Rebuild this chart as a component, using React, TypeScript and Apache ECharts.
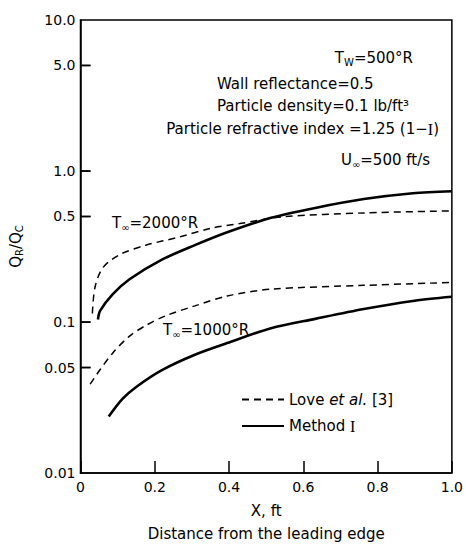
import React, { useEffect, useRef } from "react";
import * as echarts from "echarts";

const FONT = "DejaVu Sans";

const xTickLabels = ["0", "0.2", "0.4", "0.6", "0.8", "1.0"];
const yTickValues = [0.01, 0.05, 0.1, 0.5, 1, 5, 10];
const yTickLabels = ["0.01", "0.05", "0.1", "0.5", "1.0", "5.0", "10.0"];

const love2000X = [0.032, 0.039, 0.06, 0.105, 0.176, 0.263, 0.35, 0.429, 0.545, 0.763, 1.0];
const love2000Y = [0.114, 0.17, 0.229, 0.279, 0.323, 0.364, 0.417, 0.449, 0.498, 0.528, 0.545];

const method2000X = [0.047, 0.053, 0.087, 0.132, 0.218, 0.308, 0.395, 0.513, 0.632, 0.763, 0.895, 1.0];
const method2000Y = [0.104, 0.119, 0.153, 0.192, 0.258, 0.323, 0.393, 0.49, 0.57, 0.652, 0.713, 0.734];

const love1000X = [0.026, 0.053, 0.087, 0.132, 0.176, 0.229, 0.308, 0.395, 0.513, 0.763, 1.0];
const love1000Y = [0.0388, 0.0485, 0.0625, 0.0807, 0.095, 0.11, 0.128, 0.149, 0.165, 0.175, 0.183];

const method1000X = [0.076, 0.113, 0.15, 0.218, 0.308, 0.395, 0.513, 0.632, 0.763, 0.895, 1.0];
const method1000Y = [0.0237, 0.031, 0.0372, 0.0479, 0.0608, 0.0726, 0.091, 0.105, 0.122, 0.138, 0.147];

const LOVE = "Love et al. [3]";
const METHOD = "Method I";

const toPairs = (xs: number[], ys: number[]) => xs.map((x, i) => [x, Math.log10(ys[i])]);

export default function App() {
  const ref = useRef<HTMLDivElement>(null);
  useEffect(() => {
    if (!ref.current) return;
    const chart = echarts.init(ref.current, undefined, { renderer: "svg" });
    const logTicks = yTickValues.map((v) => Math.log10(v));
    const sub = { fontFamily: FONT, fontSize: 10, color: "#000", padding: [8, 0, 0, 0] };
    const norm = { fontFamily: FONT, fontSize: 15, color: "#000" };
    const roman = { fontFamily: "Liberation Serif", fontSize: 16, color: "#000" };
    const dashed = { color: "#000", width: 1.5, type: [7, 5] as any };
    const solid = { color: "#000", width: 2.6 };
    const mkSeries = (name: string, xs: number[], ys: number[], ls: any) => ({
      name,
      type: "line",
      data: toPairs(xs, ys),
      smooth: 0.3,
      showSymbol: false,
      symbol: "none",
      color: "#000",
      lineStyle: ls,
    });
    const tickSeries = {
      type: "custom",
      name: "yTicks",
      silent: true,
      clip: false,
      z: 10,
      data: logTicks.slice(1, -1).map((t) => [0, t]),
      encode: { x: 0, y: 1 },
      renderItem: (_params: any, api: any) => {
        const p = api.coord([api.value(0), api.value(1)]);
        return {
          type: "line",
          shape: { x1: p[0], y1: p[1], x2: p[0] + 10, y2: p[1] },
          style: { stroke: "#000", lineWidth: 1.5, fill: null },
        };
      },
    };
    const textEls = [
      {
        id: "tw",
        type: "text",
        x: 413,
        y: 58,
        style: { text: "{n|T}{s|W}{n|=500°R}", align: "right", verticalAlign: "middle", rich: { n: norm, s: sub } },
      },
      {
        id: "wall",
        type: "text",
        x: 217,
        y: 84,
        style: { text: "Wall reflectance=0.5", align: "left", verticalAlign: "middle", fontFamily: FONT, fontSize: 15, fill: "#000" },
      },
      {
        id: "dens",
        type: "text",
        x: 217,
        y: 106,
        style: { text: "Particle density=0.1 lb/ft³", align: "left", verticalAlign: "middle", fontFamily: FONT, fontSize: 15, fill: "#000" },
      },
      {
        id: "refr",
        type: "text",
        x: 439,
        y: 129,
        style: {
          text: "{n|Particle refractive index =1.25 (1−}{r|I}{n|)}",
          align: "right",
          verticalAlign: "middle",
          rich: { n: norm, r: roman },
        },
      },
      {
        id: "uinf",
        type: "text",
        x: 430,
        y: 160,
        style: { text: "{n|U}{s|∞}{n|=500 ft/s}", align: "right", verticalAlign: "middle", rich: { n: norm, s: sub } },
      },
      {
        id: "t2000",
        type: "text",
        x: 112,
        y: 223,
        style: { text: "{n|T}{s|∞}{n|=2000°R}", align: "left", verticalAlign: "middle", rich: { n: norm, s: sub } },
      },
      {
        id: "t1000",
        type: "text",
        x: 163,
        y: 330,
        style: { text: "{n|T}{s|∞}{n|=1000°R}", align: "left", verticalAlign: "middle", rich: { n: norm, s: sub } },
      },
    ];
    chart.setOption({
      animation: false,
      backgroundColor: "#fff",
      grid: {
        left: 77,
        right: 9,
        top: 20,
        bottom: 67,
        show: true,
        borderColor: "#000",
        borderWidth: 1.5,
      },
      xAxis: {
        type: "value",
        min: 0,
        max: 1,
        interval: 0.2,
        axisLine: { show: true, onZero: false, lineStyle: { color: "#000", width: 1.5 } },
        axisTick: { show: true, inside: true, length: 12, lineStyle: { color: "#000", width: 1.5 } },
        axisLabel: {
          color: "#000",
          fontFamily: FONT,
          fontSize: 14,
          margin: 7,
          formatter: (v: number) => xTickLabels[Math.round(v / 0.2)] ?? "",
        },
        splitLine: { show: false },
        name: "X, ft\nDistance from the leading edge",
        nameLocation: "middle",
        nameGap: 24,
        nameTextStyle: { color: "#000", fontFamily: FONT, fontSize: 15, lineHeight: 23 },
      },
      yAxis: {
        type: "value",
        min: -2,
        max: 1,
        axisLine: { show: true, onZero: false, lineStyle: { color: "#000", width: 1.5 } },
        axisTick: { show: false },
        axisLabel: {
          customValues: logTicks,
          color: "#000",
          fontFamily: FONT,
          fontSize: 14,
          margin: 5,
          formatter: (v: number) => {
            let best = 0;
            logTicks.forEach((t, i) => {
              if (Math.abs(t - v) < Math.abs(logTicks[best] - v)) best = i;
            });
            return yTickLabels[best];
          },
        },
        splitLine: { show: false },
        name: "{n|Q}{s|R}{n|/Q}{s|C}",
        nameLocation: "middle",
        nameRotate: 90,
        nameGap: 56,
        nameTextStyle: { rich: { n: norm, s: sub } },
      },
      legend: {
        data: [LOVE, METHOD],
        orient: "vertical",
        left: 236,
        top: 387,
        itemWidth: 42,
        itemHeight: 14,
        itemGap: 11,
        itemStyle: { opacity: 0 },
        formatter: (name: string) =>
          name === LOVE ? "{n|Love }{i|et al.}{n| [3]}" : "{n|Method }{r|I}",
        textStyle: {
          color: "#000",
          rich: {
            n: norm,
            i: { fontFamily: FONT, fontSize: 15, fontStyle: "italic", color: "#000" },
            r: roman,
          },
        },
      },
      graphic: { elements: textEls },
      series: [
        mkSeries(LOVE, love2000X, love2000Y, dashed),
        mkSeries(METHOD, method2000X, method2000Y, solid),
        mkSeries(LOVE, love1000X, love1000Y, dashed),
        mkSeries(METHOD, method1000X, method1000Y, solid),
        tickSeries,
      ],
    });
    // Second pass: y tick marks positioned through the grid's own scale
    const tickEls = logTicks.slice(1, -1).map((t, i) => {
      const p = chart.convertToPixel({ gridIndex: 0 }, [0, t]) as number[];
      return {
        id: "ytick" + i,
        type: "line",
        z: 100,
        shape: { x1: p[0], y1: p[1], x2: p[0] + 10, y2: p[1] },
        style: { stroke: "#000", lineWidth: 1.5 },
      };
    });
    chart.setOption({ graphic: { elements: [...textEls, ...tickEls] } });
    return () => chart.dispose();
  }, []);
  return (
    <div
      ref={ref}
      style={{ position: "fixed", left: 0, top: 0, width: 466, height: 550, background: "#fff" }}
    />
  );
}
